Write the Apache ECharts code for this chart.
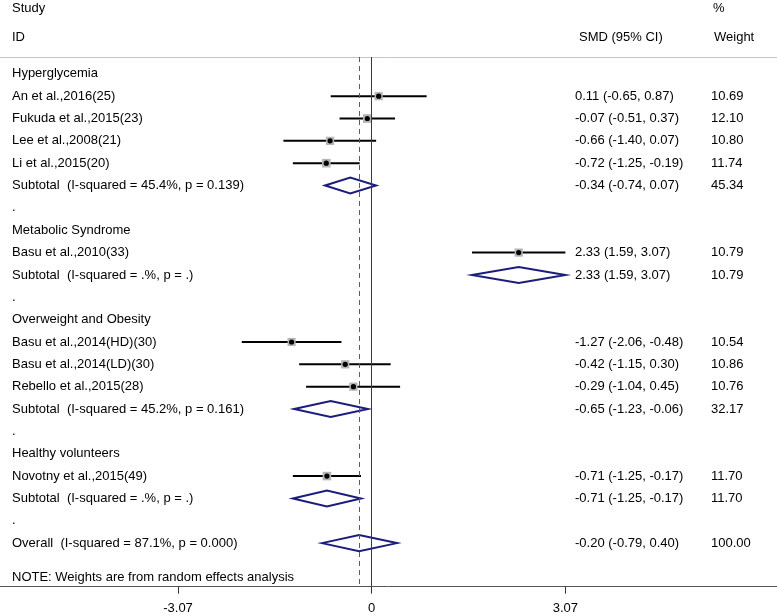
<!DOCTYPE html>
<html><head><meta charset="utf-8">
<script src="https://cdn.jsdelivr.net/npm/echarts@6/dist/echarts.min.js"></script>
<style>html,body{margin:0;padding:0;background:#fff}#c{width:777px;height:616px}</style>
</head><body><div id="c"></div>
<script>
// ---- data ----
const groupLabels = ["Hyperglycemia", "Metabolic Syndrome", "Overweight and Obesity", "Healthy volunteers"];
const groupRows = [0, 7, 11, 17];
const dotRows = [6, 10, 16, 20];

const studyNames = ["An et al.,2016(25)", "Fukuda et al.,2015(23)", "Lee et al.,2008(21)", "Li et al.,2015(20)",
  "Basu et al.,2010(33)", "Basu et al.,2014(HD)(30)", "Basu et al.,2014(LD)(30)", "Rebello et al.,2015(28)",
  "Novotny et al.,2015(49)"];
const studyRows = [1, 2, 3, 4, 8, 12, 13, 14, 18];
const studySMD = [0.11, -0.07, -0.66, -0.72, 2.33, -1.27, -0.42, -0.29, -0.71];
const studyLow = [-0.65, -0.51, -1.40, -1.25, 1.59, -2.06, -1.15, -1.04, -1.25];
const studyHigh = [0.87, 0.37, 0.07, -0.19, 3.07, -0.48, 0.30, 0.45, -0.17];
const studyWeight = [10.69, 12.10, 10.80, 11.74, 10.79, 10.54, 10.86, 10.76, 11.70];

const summaryLabels = ["Subtotal  (I-squared = 45.4%, p = 0.139)", "Subtotal  (I-squared = .%, p = .)",
  "Subtotal  (I-squared = 45.2%, p = 0.161)", "Subtotal  (I-squared = .%, p = .)",
  "Overall  (I-squared = 87.1%, p = 0.000)"];
const summaryRows = [5, 9, 15, 19, 21];
const summarySMD = [-0.34, 2.33, -0.65, -0.71, -0.20];
const summaryLow = [-0.74, 1.59, -1.23, -1.25, -0.79];
const summaryHigh = [0.07, 3.07, -0.06, -0.17, 0.40];
const summaryWeight = [45.34, 10.79, 32.17, 11.70, 100.00];

const overallSMD = -0.20;
const tickValues = [-3.07, 0, 3.07];
const tickLabels = ["-3.07", "0", "3.07"];

const headerTexts = ["Study", "ID", "SMD (95% CI)", "%", "Weight"];
const noteText = "NOTE: Weights are from random effects analysis";

// ---- layout ----
const FONT = '13px "Liberation Sans", Arial, sans-serif';
const LEFT_X = 12, SMD_X = 575, W_X = 711;
const XMIN = -5.892, XMAX = 6.424;
const YMIN = -0.752, YMAX = 22.95;

const chart = echarts.init(document.getElementById('c'), null, {renderer: 'canvas'});

// left labels
const leftLabels = [], leftRows = [];
groupLabels.forEach((l, i) => { leftLabels.push(l); leftRows.push(groupRows[i]); });
studyNames.forEach((l, i) => { leftLabels.push(l); leftRows.push(studyRows[i]); });
summaryLabels.forEach((l, i) => { leftLabels.push(l); leftRows.push(summaryRows[i]); });
dotRows.forEach(r => { leftLabels.push("."); leftRows.push(r); });

// right labels
const rightSmd = [], rightW = [], rightRows = [];
const fmt = v => v.toFixed(2);
studySMD.forEach((v, i) => {
  rightSmd.push(fmt(v) + " (" + fmt(studyLow[i]) + ", " + fmt(studyHigh[i]) + ")");
  rightW.push(fmt(studyWeight[i])); rightRows.push(studyRows[i]);
});
summarySMD.forEach((v, i) => {
  rightSmd.push(fmt(v) + " (" + fmt(summaryLow[i]) + ", " + fmt(summaryHigh[i]) + ")");
  rightW.push(fmt(summaryWeight[i])); rightRows.push(summaryRows[i]);
});

function textSeries(rows, texts, px) {
  return {
    type: 'custom', silent: true, clip: false,
    data: rows.map(r => [0, r]),
    encode: {x: 0, y: 1},
    renderItem: (params, api) => {
      const y = api.coord([0, api.value(1)])[1];
      return {type: 'text', style: {x: px, y: y, text: texts[params.dataIndex], font: FONT,
        fill: '#000', verticalAlign: 'middle', align: 'left'}};
    }
  };
}

const series = [
  {
    type: 'line', data: [], silent: true,
    markLine: {
      silent: true, symbol: 'none', label: {show: false},
      data: [
        {xAxis: 0, lineStyle: {color: '#3a3a3a', width: 1, type: 'solid'}},
        {xAxis: overallSMD, lineStyle: {color: '#8b4456', width: 1, type: [5, 4]}}
      ]
    }
  },
  {
    type: 'custom', silent: true, clip: false,
    data: studySMD.map((v, i) => [v, studyRows[i], studyLow[i], studyHigh[i], studyWeight[i]]),
    encode: {x: 0, y: 1},
    renderItem: (params, api) => {
      const row = api.value(1);
      const p = api.coord([api.value(0), row]);
      const lo = api.coord([api.value(2), row]);
      const hi = api.coord([api.value(3), row]);
      const s = Math.sqrt(api.value(4)) * 2.5;
      return {type: 'group', children: [
        {type: 'line', shape: {x1: lo[0], y1: p[1], x2: hi[0], y2: p[1]}, style: {stroke: '#000', lineWidth: 2}},
        {type: 'rect', shape: {x: p[0] - s / 2, y: p[1] - s / 2, width: s, height: s}, style: {fill: '#b4b4b4'}},
        {type: 'circle', shape: {cx: p[0], cy: p[1], r: 2.6}, style: {fill: '#000'}}
      ]};
    }
  },
  {
    type: 'custom', silent: true, clip: false,
    data: summarySMD.map((v, i) => [v, summaryRows[i], summaryLow[i], summaryHigh[i]]),
    encode: {x: 0, y: 1},
    renderItem: (params, api) => {
      const row = api.value(1);
      const p = api.coord([api.value(0), row]);
      const lo = api.coord([api.value(2), row]);
      const hi = api.coord([api.value(3), row]);
      const h = 8;
      return {type: 'polygon', shape: {points: [[lo[0], p[1]], [p[0], p[1] - h], [hi[0], p[1]], [p[0], p[1] + h]]},
        style: {fill: 'none', stroke: '#1c1c7c', lineWidth: 2}};
    }
  },
  textSeries(leftRows, leftLabels, LEFT_X),
  textSeries(rightRows, rightSmd, SMD_X),
  textSeries(rightRows, rightW, W_X)
];

const hdr = (t, x, y) => ({type: 'text', x: x, y: y, silent: true,
  style: {text: t, font: FONT, fill: '#000', verticalAlign: 'middle', align: 'left'}});

chart.setOption({
  animation: false,
  backgroundColor: '#fff',
  grid: {left: 0, right: 0, top: 57, bottom: 29.3, containLabel: false},
  xAxis: [
    {
      type: 'value', min: XMIN, max: XMAX, position: 'bottom',
      splitLine: {show: false},
      axisLine: {show: true, onZero: false, lineStyle: {color: '#555', width: 1}},
      axisTick: {show: true, customValues: tickValues, length: 7, lineStyle: {color: '#333'}},
      axisLabel: {customValues: tickValues, margin: 15, color: '#000', fontSize: 13,
        fontFamily: '"Liberation Sans", Arial, sans-serif',
        formatter: v => { const i = tickValues.indexOf(v); return i >= 0 ? tickLabels[i] : ''; }}
    },
    {
      type: 'value', min: XMIN, max: XMAX, position: 'top',
      splitLine: {show: false},
      axisLine: {show: true, onZero: false, lineStyle: {color: '#c4c4c4', width: 1}},
      axisTick: {show: false}, axisLabel: {show: false}
    }
  ],
  yAxis: {type: 'value', inverse: true, min: YMIN, max: YMAX, show: false, splitLine: {show: false}},
  series: series,
  graphic: [
    hdr(headerTexts[0], LEFT_X, 8),
    hdr(headerTexts[1], LEFT_X, 37),
    hdr(headerTexts[2], 579, 37),
    hdr(headerTexts[3], 713, 8),
    hdr(headerTexts[4], 714, 37),
    hdr(noteText, LEFT_X, 577)
  ]
});
</script>
</body></html>
